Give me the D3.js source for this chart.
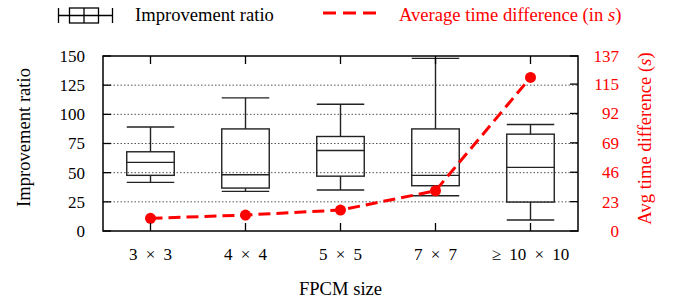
<!DOCTYPE html>
<html>
<head>
<meta charset="utf-8">
<script src="https://cdn.jsdelivr.net/npm/d3@7"></script>
<style>
  html, body { margin: 0; padding: 0; background: #fff; }
  svg { display: block; }
  svg text, svg tspan { font-family: "Liberation Serif", "Times New Roman", serif; }
</style>
</head>
<body>
<svg id="chart" width="677" height="305" font-family="Liberation Serif, serif"></svg>
<script>
// ---- data ----
const categories = ["3 × 3", "4 × 4", "5 × 5", "7 × 7", "≥ 10 × 10"];
const whiskerLow  = [41.7, 34.0, 35.1, 30.2, 9.4];
const q1          = [47.7, 36.8, 47.0, 38.8, 24.8];
const median      = [58.8, 48.2, 69.0, 47.7, 54.5];
const q3          = [67.9, 87.5, 81.0, 87.5, 83.0];
const whiskerHigh = [89.2, 114.1, 108.7, 148.0, 91.3];
const avgTimeDiff = [9.9, 12.5, 16.4, 31.5, 120.2];
const leftTicks  = [0, 25, 50, 75, 100, 125, 150];
const rightTicks = [0, 23, 46, 69, 92, 115, 137];

// ---- layout ----
const L = 103, R = 578, T = 56, B = 231;
const FONT = "Liberation Serif, Times New Roman, serif";
const svg = d3.select("#chart");
const RED = "#ff0000";

const x = d3.scaleBand().domain(categories).range([L, R]).padding(0);
const y = d3.scaleLinear().domain([0, 150]).range([B, T]);
const y2 = d3.scaleLinear().domain([0, 137]).range([B, T]);
const cx = c => x(c) + x.bandwidth() / 2;
const bw = x.bandwidth() * 0.5;

// grid lines
svg.append("g").selectAll("line")
  .data(leftTicks.filter(v => v > 0 && v < 150))
  .join("line")
  .attr("x1", L).attr("x2", R)
  .attr("y1", d => y(d)).attr("y2", d => y(d))
  .attr("stroke", "#555").attr("stroke-width", 1)
  .attr("stroke-dasharray", "1.5,2");

// boxes
const boxes = categories.map((c, i) => ({
  c, lo: whiskerLow[i], q1: q1[i], med: median[i], q3: q3[i], hi: whiskerHigh[i]
}));
const gb = svg.append("g").attr("stroke", "#222").attr("stroke-width", 1.4).attr("fill", "none");
boxes.forEach(d => {
  const xc = cx(d.c);
  gb.append("line").attr("x1", xc).attr("x2", xc).attr("y1", y(d.hi)).attr("y2", y(d.q3));
  gb.append("line").attr("x1", xc).attr("x2", xc).attr("y1", y(d.q1)).attr("y2", y(d.lo));
  gb.append("line").attr("x1", xc - bw / 2).attr("x2", xc + bw / 2).attr("y1", y(d.hi)).attr("y2", y(d.hi));
  gb.append("line").attr("x1", xc - bw / 2).attr("x2", xc + bw / 2).attr("y1", y(d.lo)).attr("y2", y(d.lo));
  gb.append("rect").attr("x", xc - bw / 2).attr("width", bw)
    .attr("y", y(d.q3)).attr("height", y(d.q1) - y(d.q3));
  gb.append("line").attr("x1", xc - bw / 2).attr("x2", xc + bw / 2).attr("y1", y(d.med)).attr("y2", y(d.med));
});

// red line
const pts = categories.map((c, i) => [cx(c), y2(avgTimeDiff[i])]);
svg.append("path")
  .attr("d", d3.line()(pts))
  .attr("fill", "none").attr("stroke", RED).attr("stroke-width", 3)
  .attr("stroke-dasharray", "12,6");
svg.append("g").selectAll("circle").data(pts).join("circle")
  .attr("cx", d => d[0]).attr("cy", d => d[1]).attr("r", 5.5).attr("fill", RED);

// frame
svg.append("rect").attr("x", L).attr("y", T).attr("width", R - L).attr("height", B - T)
  .attr("fill", "none").attr("stroke", "#000").attr("stroke-width", 1.5);

// ticks (inward)
const tk = svg.append("g").attr("stroke", "#000").attr("stroke-width", 1.3);
leftTicks.forEach(v => {
  tk.append("line").attr("x1", L).attr("x2", L + 8).attr("y1", y(v)).attr("y2", y(v));
});
rightTicks.forEach(v => {
  tk.append("line").attr("x1", R).attr("x2", R - 8).attr("y1", y2(v)).attr("y2", y2(v));
});
categories.forEach(c => {
  tk.append("line").attr("x1", cx(c)).attr("x2", cx(c)).attr("y1", B).attr("y2", B - 8);
  tk.append("line").attr("x1", cx(c)).attr("x2", cx(c)).attr("y1", T).attr("y2", T + 8);
});

// tick labels
svg.append("g").selectAll("text").data(leftTicks).join("text")
  .attr("font-family", FONT)
  .attr("x", 85).attr("y", d => y(d)).attr("dy", "0.35em")
  .attr("text-anchor", "end").attr("font-size", 17).attr("fill", "#000")
  .text(d => d);
svg.append("g").selectAll("text").data(rightTicks).join("text")
  .attr("font-family", FONT)
  .attr("x", 619).attr("y", d => y2(d)).attr("dy", "0.35em")
  .attr("text-anchor", "end").attr("font-size", 17).attr("fill", RED)
  .text(d => d);
svg.append("g").selectAll("text").data(categories).join("text")
  .attr("font-family", FONT)
  .attr("x", d => cx(d)).attr("y", 260)
  .attr("text-anchor", "middle").attr("font-size", 17).attr("fill", "#000")
  .style("word-spacing", "4px")
  .text(d => d);

// axis titles
svg.append("text").attr("font-family", FONT).attr("x", 340.5).attr("y", 295)
  .attr("text-anchor", "middle").attr("font-size", 18.6).text("FPCM size");
svg.append("text").attr("font-family", FONT).attr("transform", "translate(29.5,137.5) rotate(-90)")
  .attr("text-anchor", "middle").attr("font-size", 18.6).text("Improvement ratio");
const rt = svg.append("text").attr("font-family", FONT).attr("transform", "translate(651,138.5) rotate(-90)")
  .attr("text-anchor", "middle").attr("font-size", 18.6).attr("fill", RED);
rt.append("tspan").text("Avg time difference (");
rt.append("tspan").attr("font-style", "italic").text("s");
rt.append("tspan").text(")");

// legend
const lg = svg.append("g").attr("stroke", "#000").attr("stroke-width", 1.3).attr("fill", "none");
const ly = 15.5, lt = 8, lb = 23;
lg.append("line").attr("x1", 58.5).attr("x2", 58.5).attr("y1", lt).attr("y2", lb);
lg.append("line").attr("x1", 112.5).attr("x2", 112.5).attr("y1", lt).attr("y2", lb);
lg.append("line").attr("x1", 58.5).attr("x2", 112.5).attr("y1", ly).attr("y2", ly);
lg.append("rect").attr("x", 69.5).attr("y", lt).attr("width", 29).attr("height", lb - lt);
lg.append("line").attr("x1", 84).attr("x2", 84).attr("y1", lt).attr("y2", lb);
svg.append("text").attr("font-family", FONT).attr("x", 135).attr("y", 21).attr("font-size", 18.6).text("Improvement ratio");

svg.append("line").attr("x1", 323).attr("x2", 376).attr("y1", 13).attr("y2", 13)
  .attr("stroke", RED).attr("stroke-width", 3).attr("stroke-dasharray", "13,7");
const lt2 = svg.append("text").attr("font-family", FONT).attr("x", 399).attr("y", 21).attr("font-size", 18.6).attr("fill", RED);
lt2.append("tspan").text("Average time difference (in ");
lt2.append("tspan").attr("font-style", "italic").text("s");
lt2.append("tspan").text(")");
</script>
</body>
</html>
